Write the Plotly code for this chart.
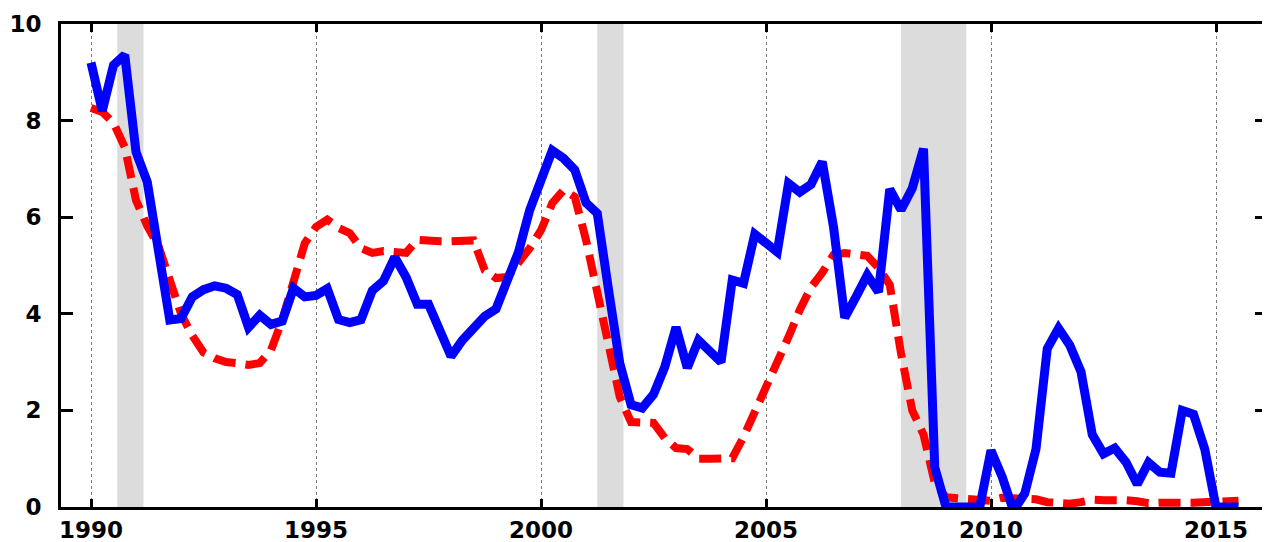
import plotly.graph_objects as go

years = list(range(1990, 2016))
quarter_offsets = [0.0, 0.25, 0.5, 0.75]

blue_values = [
    9.20, 8.20, 9.15, 9.36,   # 1990
    7.35, 6.73, 5.30, 3.87,   # 1991
    3.90, 4.35, 4.50, 4.58,   # 1992
    4.53, 4.40, 3.72, 3.97,   # 1993
    3.78, 3.85, 4.53, 4.35,   # 1994
    4.38, 4.52, 3.88, 3.82,   # 1995
    3.88, 4.48, 4.68, 5.17,   # 1996
    4.76, 4.20, 4.20, 3.65,   # 1997
    3.12, 3.45, 3.68, 3.95,   # 1998
    4.10, 4.70, 5.28, 6.15,   # 1999
    6.80, 7.38, 7.22, 6.98,   # 2000
    6.30, 6.08, 4.50, 2.98,   # 2001
    2.12, 2.05, 2.33, 2.90,   # 2002
    3.72, 2.88, 3.45, 3.22,   # 2003
    3.00, 4.70, 4.63, 5.65,   # 2004
    5.48, 5.28, 6.70, 6.52,   # 2005
    6.68, 7.15, 5.80, 3.92,   # 2006
    4.35, 4.80, 4.45, 6.58,   # 2007
    6.15, 6.60, 7.42, 0.82,   # 2008
    0.00, 0.00, 0.00, 0.00,   # 2009
    1.17, 0.62, -0.08, 0.28,  # 2010
    1.20, 3.28, 3.70, 3.35,   # 2011
    2.80, 1.50, 1.10, 1.22,   # 2012
    0.93, 0.47, 0.92, 0.72,   # 2013
    0.70, 2.00, 1.92, 1.20,   # 2014
    0.00, 0.00, 0.00,         # 2015
]

red_values = [
    8.26, 8.18, 7.95, 7.45,   # 1990
    6.35, 5.82, 5.40, 4.65,   # 1991
    4.00, 3.55, 3.20, 3.08,   # 1992
    3.00, 2.98, 2.94, 2.98,   # 1993
    3.25, 3.87, 4.63, 5.46,   # 1994
    5.80, 5.95, 5.78, 5.67,   # 1995
    5.36, 5.26, 5.30, 5.28,   # 1996
    5.26, 5.53, 5.50, 5.50,   # 1997
    5.50, 5.50, 5.52, 4.90,   # 1998
    4.74, 4.76, 5.05, 5.36,   # 1999
    5.73, 6.29, 6.56, 6.42,   # 2000
    5.53, 4.50, 3.40, 2.28,   # 2001
    1.76, 1.74, 1.74, 1.43,   # 2002
    1.22, 1.20, 1.00, 1.00,   # 2003
    1.00, 1.01, 1.45, 1.96,   # 2004
    2.42, 2.98, 3.52, 4.08,   # 2005
    4.55, 4.85, 5.22, 5.26,   # 2006
    5.24, 5.20, 4.95, 4.60,   # 2007
    3.18, 2.00, 1.50, 0.50,   # 2008
    0.20, 0.18, 0.16, 0.13,   # 2009
    0.13, 0.19, 0.19, 0.19,   # 2010
    0.16, 0.10, 0.08, 0.07,   # 2011
    0.10, 0.15, 0.14, 0.16,   # 2012
    0.14, 0.12, 0.08, 0.09,   # 2013
    0.07, 0.09, 0.09, 0.10,   # 2014
    0.11, 0.12, 0.13,         # 2015
]

recessions = [(1990.583, 1991.167), (2001.25, 2001.833), (2008.0, 2009.45)]
x_tick_vals = [1990, 1995, 2000, 2005, 2010, 2015]
y_tick_vals = [0, 2, 4, 6, 8, 10]

dates = [y + q for y in years for q in quarter_offsets]
x_blue = dates[:len(blue_values)]
x_red = dates[:len(red_values)]

fig = go.Figure()
fig.add_trace(go.Scatter(
    x=x_red, y=red_values, mode="lines",
    line=dict(color="#ff0000", width=8, dash="22px,10px"),
    cliponaxis=False, hoverinfo="skip", showlegend=False,
))
fig.add_trace(go.Scatter(
    x=x_blue, y=blue_values, mode="lines",
    line=dict(color="#0000ff", width=9),
    cliponaxis=False, hoverinfo="skip", showlegend=False,
))

for a, b in recessions:
    fig.add_shape(type="rect", xref="x", yref="paper", x0=a, x1=b, y0=0, y1=1,
                  fillcolor="#dcdcdc", line=dict(width=0), layer="below")

font = dict(family="DejaVu Sans", size=23, color="black", weight="bold")

# the page body has an 8px margin, so the figure is sized/offset to compensate
fig.update_layout(
    width=1260, height=534,
    margin=dict(l=53, r=1, t=16, b=35, autoexpand=False),
    paper_bgcolor="white", plot_bgcolor="white",
    showlegend=False,
    xaxis=dict(
        range=[1989.333, 2016.133],
        tickmode="array", tickvals=x_tick_vals,
        ticks="inside", ticklen=8, tickwidth=3, tickcolor="black",
        showline=True, linewidth=3, linecolor="black", mirror="ticks",
        showgrid=True, gridcolor="#7a7a7a", gridwidth=1, griddash="dot",
        zeroline=False, tickfont=font, layer="below traces",
        ticklabelstandoff=0,
    ),
    yaxis=dict(
        range=[0, 10],
        tickmode="array", tickvals=y_tick_vals,
        ticks="inside", ticklen=12, tickwidth=3, tickcolor="black",
        showline=True, linewidth=3, linecolor="black", mirror="ticks",
        showgrid=False, zeroline=False, tickfont=font, layer="below traces",
        ticklabelstandoff=12,
    ),
)

fig.write_html("out.html")
